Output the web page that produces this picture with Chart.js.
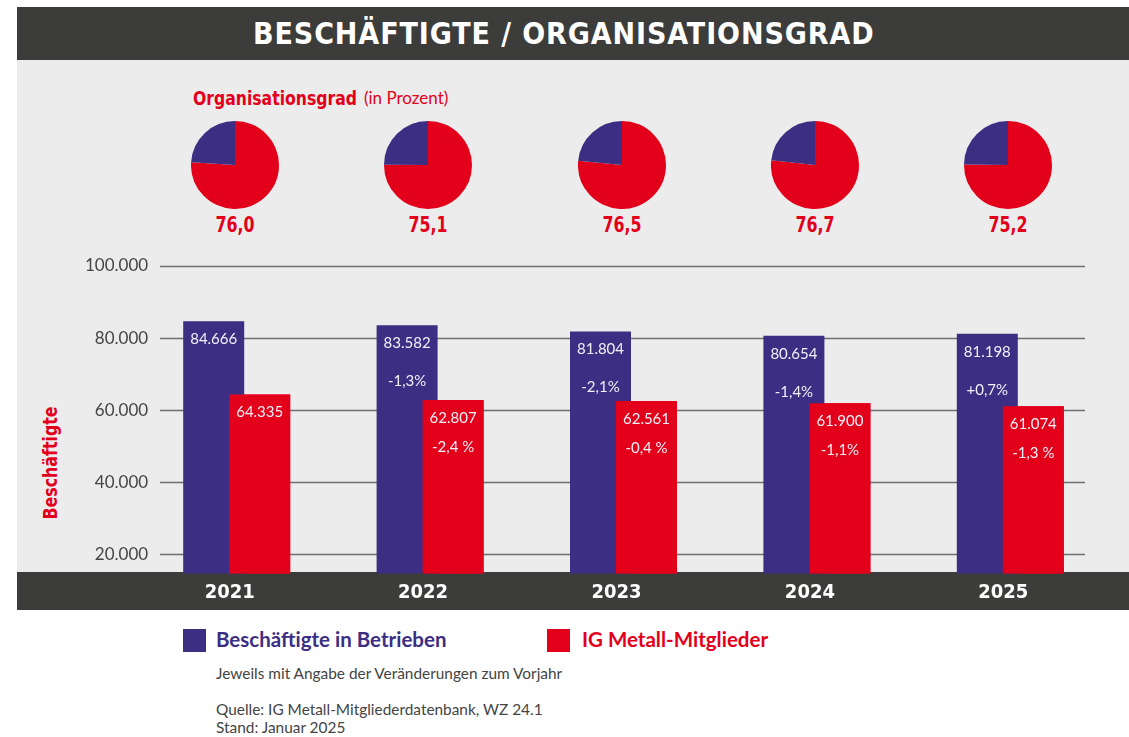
<!DOCTYPE html>
<html lang="de">
<head>
  <meta charset="UTF-8">
  <title>Beschäftigte / Organisationsgrad</title>
  <script src="https://cdn.jsdelivr.net/npm/chart.js"></script>
  <style>
    body { margin: 0; background: #fff; width: 1129px; height: 737px; position: relative; overflow: hidden; font-family: Lato, "Noto Sans", sans-serif; }
    .abs { position: absolute; }
    .dunkel { background: #3c3c3b; }
    .schmal { font-family: "Liberation Sans Narrow", "DejaVu Sans Condensed", sans-serif; font-weight: bold; }
    #titel { left: 17px; top: 7px; width: 1112px; height: 53px; }
    #titel span { position: absolute; left: 236px; top: 9px; color: #fff; font-size: 30px; letter-spacing: 0.9px; white-space: nowrap; }
    #panel { left: 17px; top: 60px; width: 1112px; height: 512px; background: #ececec; }
    #band { left: 17px; top: 572px; width: 1112px; height: 38px; }
    #orggrad { left: 193px; top: 86px; color: #e2001a; font-size: 20px; white-space: nowrap; transform: scaleX(0.87); transform-origin: left center; }
    #prozent { left: 364px; top: 87px; color: #e2001a; font-size: 17px; white-space: nowrap; }
    #achse { left: 50px; top: 463px; color: #e2001a; font-size: 20px; transform: translate(-50%, -50%) rotate(-90deg) scaleX(0.88); white-space: nowrap; }
    .pielabel { color: #e2001a; font-size: 22px; width: 80px; text-align: center; top: 212px; transform: scaleX(0.8); }
    .leg { top: 629px; width: 23px; height: 23px; }
    .legtext { top: 627px; font-size: 20.5px; font-weight: bold; white-space: nowrap; }
    .fuss { left: 216px; color: #444; font-size: 15.4px; white-space: nowrap; }
    canvas { position: absolute; }
  </style>
</head>
<body>
  <div class="abs dunkel" id="titel"><span class="schmal">BESCHÄFTIGTE / ORGANISATIONSGRAD</span></div>
  <div class="abs" id="panel"></div>
  <div class="abs dunkel" id="band"></div>
  <div class="abs schmal" id="orggrad">Organisationsgrad</div>
  <div class="abs" id="prozent">(in Prozent)</div>
  <div class="abs schmal" id="achse">Beschäftigte</div>

  <canvas id="balken" width="1129" height="367" style="left:0;top:250px;"></canvas>
  <div id="pies"></div>

  <div class="abs leg" style="left:183px;background:#3b2e83;"></div>
  <div class="abs legtext" style="left:216px;color:#3b2e83;">Beschäftigte in Betrieben</div>
  <div class="abs leg" style="left:547px;background:#e2001a;"></div>
  <div class="abs legtext" style="left:582px;color:#e2001a;">IG Metall-Mitglieder</div>
  <div class="abs fuss" style="top:664px;">Jeweils mit Angabe der Veränderungen zum Vorjahr</div>
  <div class="abs fuss" style="top:700px;">Quelle: IG Metall-Mitgliederdatenbank, WZ 24.1</div>
  <div class="abs fuss" style="top:718px;">Stand: Januar 2025</div>

  <script>
    // Daten
    const jahre = ['2021', '2022', '2023', '2024', '2025'];
    const beschaeftigte = [84666, 83582, 81804, 80654, 81198];
    const mitglieder = [64335, 62807, 62561, 61900, 61074];
    const veraenderungBesch = ['', '-1,3%', '-2,1%', '-1,4%', '+0,7%'];
    const veraenderungMitgl = ['', '-2,4 %', '-0,4 %', '-1,1%', '-1,3 %'];
    const organisationsgrad = [76.0, 75.1, 76.5, 76.7, 75.2];
    const yTicks = [20000, 40000, 60000, 80000, 100000];

    const BLAU = '#3b2e83';
    const ROT = '#e2001a';
    const SCHMAL = "'Liberation Sans Narrow', 'DejaVu Sans Condensed', sans-serif";
    const NORMAL = "Lato, 'Noto Sans', sans-serif";

    function tausender(v) {
      return String(v).replace(/\B(?=(\d{3})+(?!\d))/g, '.');
    }

    // horizontale Linien, nicht über die ganze Breite
    const gitter = {
      id: 'gitter',
      beforeDatasetsDraw(chart) {
        const { ctx, chartArea, scales } = chart;
        ctx.save();
        ctx.strokeStyle = '#6e6e6e';
        ctx.lineWidth = 1.6;
        yTicks.forEach(v => {
          const y = Math.round(scales.y.getPixelForValue(v)) + 0.5;
          ctx.beginPath();
          ctx.moveTo(chartArea.left + 20, y);
          ctx.lineTo(chartArea.right - 22, y);
          ctx.stroke();
        });
        ctx.restore();
      }
    };

    // rote Balken über die blauen legen, dann Werte und Veränderungen
    const beschriftung = {
      id: 'beschriftung',
      afterDatasetsDraw(chart) {
        const { ctx, chartArea } = chart;
        ctx.save();
        ctx.beginPath();
        ctx.rect(chartArea.left, chartArea.top, chartArea.width, chartArea.height);
        ctx.clip();
        chart.getDatasetMeta(1).data.forEach(bar => bar.draw(ctx));
        ctx.restore();

        ctx.save();
        ctx.fillStyle = '#f2f0f7';
        ctx.font = '15px ' + NORMAL;
        ctx.textAlign = 'center';
        ctx.textBaseline = 'middle';
        const aend = [veraenderungBesch, veraenderungMitgl];
        const abstand = [56, 47];
        chart.data.datasets.forEach((ds, d) => {
          chart.getDatasetMeta(d).data.forEach((bar, i) => {
            ctx.fillText(tausender(ds.data[i]), bar.x, bar.y + 18);
            if (aend[d][i]) ctx.fillText(aend[d][i], bar.x, bar.y + abstand[d]);
          });
        });
        ctx.restore();
      }
    };

    const balken = new Chart(document.getElementById('balken'), {
      type: 'bar',
      data: {
        labels: jahre,
        datasets: [
          { label: 'Beschäftigte in Betrieben', data: beschaeftigte, backgroundColor: BLAU,
            categoryPercentage: 0.4757, barPercentage: 1.326 },
          { label: 'IG Metall-Mitglieder', data: mitglieder, backgroundColor: ROT,
            categoryPercentage: 0.4757, barPercentage: 1.326 }
        ]
      },
      options: {
        responsive: false,
        animation: false,
        layout: { padding: { top: 16, right: 22, bottom: 5.6, left: 0 } },
        plugins: { legend: { display: false }, tooltip: { enabled: false } },
        scales: {
          x: {
            grid: { display: false, drawTicks: false },
            border: { display: false },
            ticks: { color: '#fff', padding: 7, labelOffset: -7,
                     font: { family: SCHMAL, size: 20, weight: 'bold' } }
          },
          y: {
            min: 14700, max: 100000,
            afterBuildTicks: s => { s.ticks = yTicks.map(v => ({ value: v })); },
            afterFit: s => { s.width = 140; },
            grid: { display: false, drawTicks: false },
            border: { display: false },
            ticks: { color: '#444', mirror: true, crossAlign: 'far', padding: -55,
                     font: { family: NORMAL, size: 17 },
                     callback: v => tausender(v) }
          }
        }
      },
      plugins: [gitter, beschriftung]
    });

    // Kreisdiagramme Organisationsgrad über den Jahresgruppen
    const xs = balken.scales.x;
    const pies = document.getElementById('pies');
    organisationsgrad.forEach((wert, i) => {
      const cx = xs.getPixelForValue(i) - 2;
      const c = document.createElement('canvas');
      c.width = 88; c.height = 88;
      c.style.left = (cx - 44) + 'px';
      c.style.top = '121px';
      pies.appendChild(c);
      new Chart(c, {
        type: 'pie',
        data: {
          labels: ['organisiert', 'nicht organisiert'],
          datasets: [{ data: [wert, 100 - wert], backgroundColor: [ROT, BLAU], borderWidth: 0 }]
        },
        options: {
          responsive: false, animation: false,
          plugins: { legend: { display: false }, tooltip: { enabled: false } }
        }
      });
      const l = document.createElement('div');
      l.className = 'abs schmal pielabel';
      l.style.left = (cx - 40) + 'px';
      l.textContent = wert.toFixed(1).replace('.', ',');
      pies.appendChild(l);
    });
  </script>
</body>
</html>
